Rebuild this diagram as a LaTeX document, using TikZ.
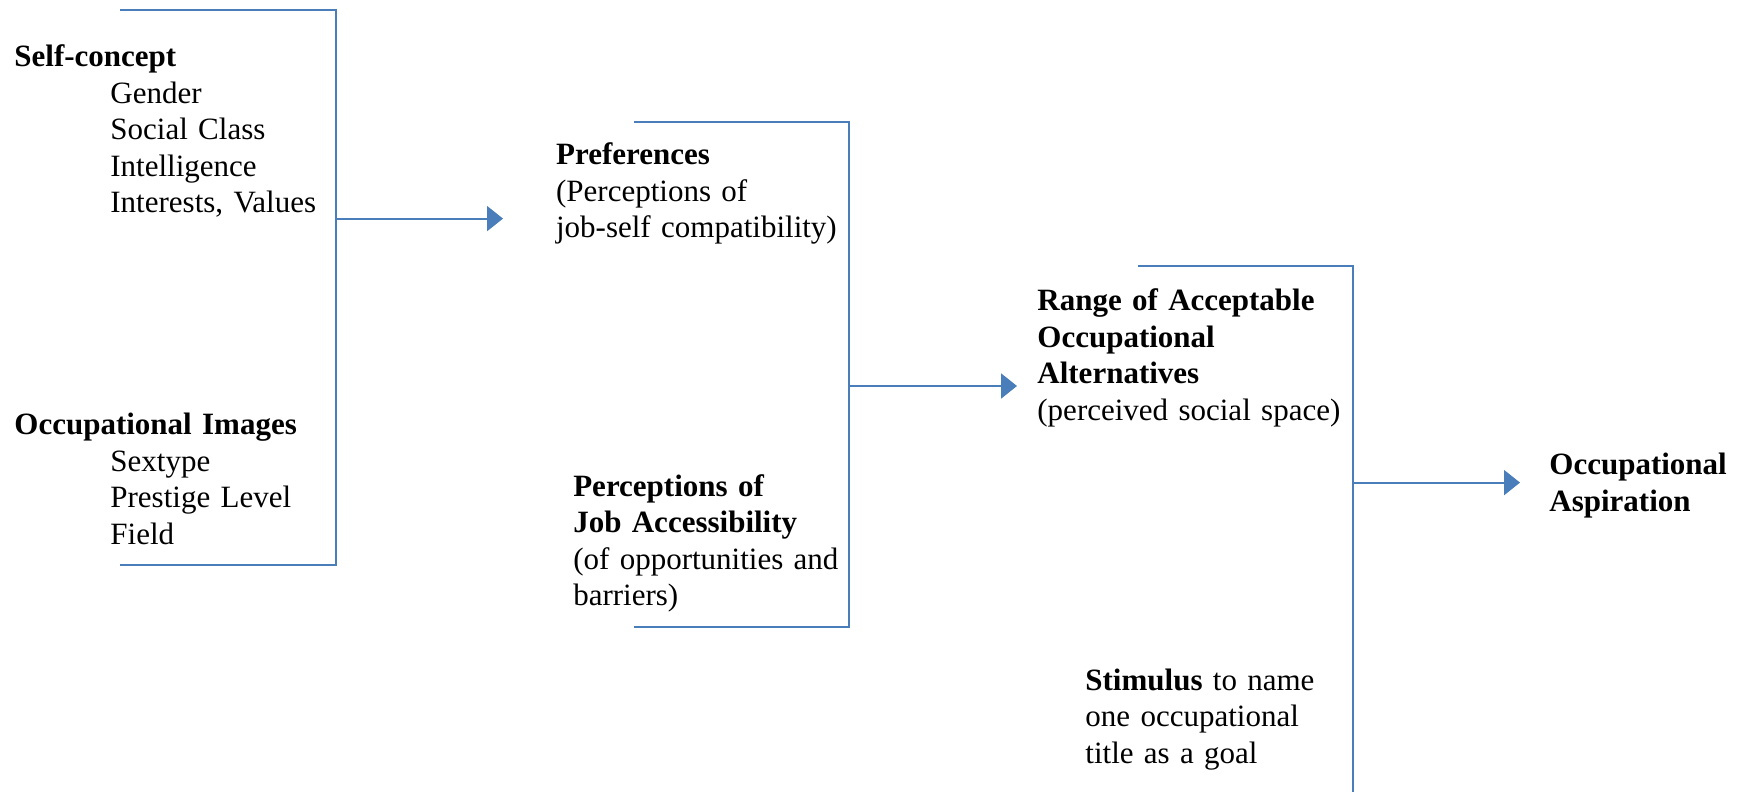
\documentclass[tikz,border=0pt]{standalone}
\usepackage{fontspec}
\setmainfont{Liberation Serif}
\usetikzlibrary{arrows.meta}
\definecolor{lineblue}{RGB}{74,126,187}
\begin{document}
\begin{tikzpicture}[x=0.5pt,y=-0.5pt,
  bl/.style={draw=lineblue, line width=1pt},
  arr/.style={bl, -{Triangle[length=8pt,width=12.5pt]}},
  txt/.style={anchor=base west, inner sep=0pt, text width=200pt, align=left,
              font=\fontsize{15.5pt}{18.3pt}\selectfont}]
\useasboundingbox (0,0) rectangle (1745,792);

% bracket 1
\coordinate (b1tl) at (120,10);
\coordinate (b1tr) at (336,10);
\coordinate (b1br) at (336,565);
\coordinate (b1bl) at (120,565);
\coordinate (b1m) at (336,218.6);
\coordinate (a1) at (503,218.6);
\draw[bl] (b1tl) -- (b1tr) -- (b1br) -- (b1bl);
\draw[arr] (b1m) -- (a1);

% bracket 2
\coordinate (b2tl) at (634,122.4);
\coordinate (b2tr) at (849,122.4);
\coordinate (b2br) at (849,627);
\coordinate (b2bl) at (634,627);
\coordinate (b2m) at (849,386);
\coordinate (a2) at (1017,386);
\draw[bl] (b2tl) -- (b2tr) -- (b2br) -- (b2bl);
\draw[arr] (b2m) -- (a2);

% bracket 3
\coordinate (b3tl) at (1138,265.6);
\coordinate (b3tr) at (1353,265.6);
\coordinate (b3b) at (1353,792);
\coordinate (b3m) at (1353,482.6);
\coordinate (a3) at (1520,482.6);
\draw[bl] (b3tl) -- (b3tr) -- (b3b);
\draw[arr] (b3m) -- (a3);

% texts
\node[txt] (self) at (14,66.6) {\textbf{Self-concept}\\
  \hspace*{48pt}Gender\\
  \hspace*{48pt}Social Class\\
  \hspace*{48pt}Intelligence\\
  \hspace*{48pt}Interests, Values};
\node[txt] (occimg) at (14,434.7) {\textbf{Occupational Images}\\
  \hspace*{48pt}Sextype\\
  \hspace*{48pt}Prestige Level\\
  \hspace*{48pt}Field};
\node[txt] (pref) at (555.7,164.7) {\textbf{Preferences}\\
  (Perceptions of\\
  job-self compatibility)};
\node[txt] (access) at (572.9,496) {\textbf{Perceptions of}\\
  \textbf{Job Accessibility}\\
  (of opportunities and\\
  barriers)};
\node[txt] (range) at (1037,310.5) {\textbf{Range of Acceptable}\\
  \textbf{Occupational}\\
  \textbf{Alternatives}\\
  (perceived social space)};
\node[txt] (stim) at (1085,690) {\textbf{Stimulus} to name\\
  one occupational\\
  title as a goal};
\node[txt] (asp) at (1549,474.7) {\textbf{Occupational}\\
  \textbf{Aspiration}};
\end{tikzpicture}
\end{document}
